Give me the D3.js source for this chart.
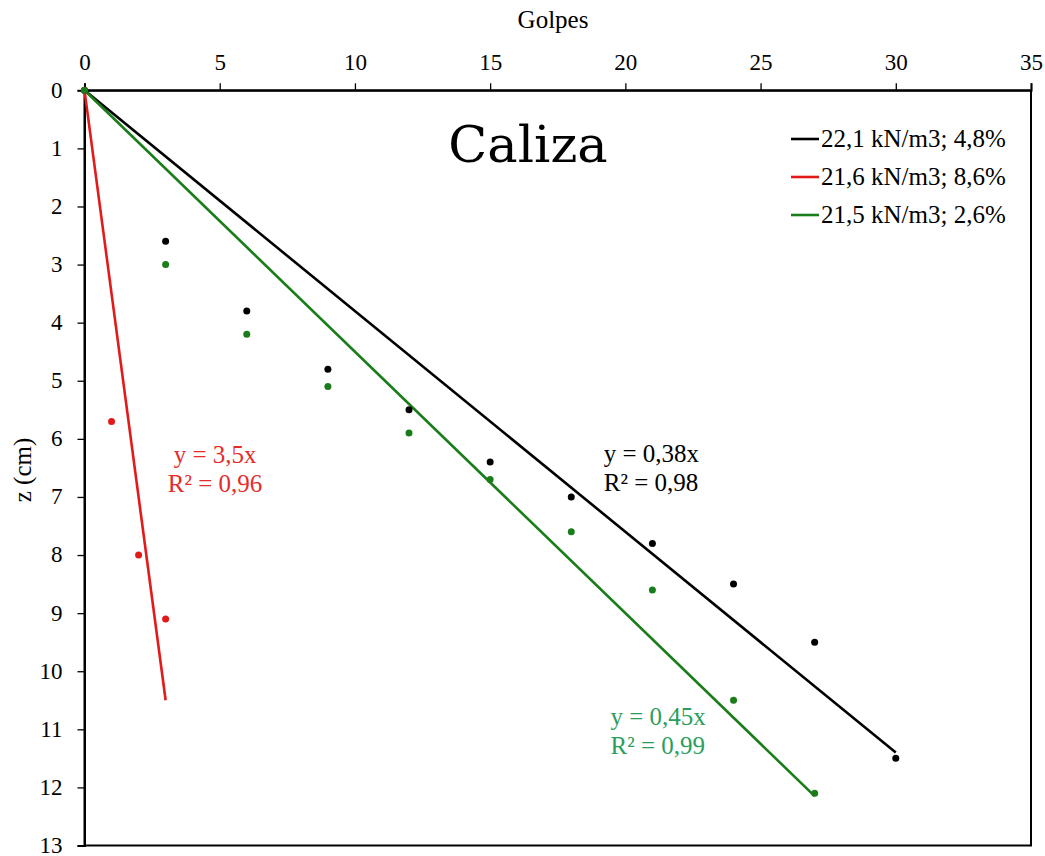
<!DOCTYPE html>
<html>
<head>
<meta charset="utf-8">
<script src="https://cdn.jsdelivr.net/npm/d3@7"></script>
<style>
  html, body { margin: 0; padding: 0; background: #fff; }
  svg { display: block; }
  text { font-family: "Liberation Serif", "Times New Roman", serif; }
</style>
</head>
<body>
<svg id="chart" width="1045" height="856"></svg>
<script>
// Number of blows (golpes) vs penetration depth z (cm)
const golpesBlack = [0, 3, 6, 9, 12, 15, 18, 21, 24, 27, 30];
const zBlack      = [0, 2.6, 3.8, 4.8, 5.5, 6.4, 7.0, 7.8, 8.5, 9.5, 11.5];

const golpesRed = [0, 1, 2, 3];
const zRed      = [0, 5.7, 8.0, 9.1];

const golpesGreen = [0, 3, 6, 9, 12, 15, 18, 21, 24, 27];
const zGreen      = [0, 3.0, 4.2, 5.1, 5.9, 6.7, 7.6, 8.6, 10.5, 12.1];

// Linear fits through the origin
const slopes   = [0.38, 3.5, 0.45];
const fitMaxX  = [30, 3, 27];
const eqLabels = ["y = 0,38x", "y = 3,5x", "y = 0,45x"];
const r2Labels = ["R² = 0,98", "R² = 0,96", "R² = 0,99"];

const seriesNames  = ["22,1 kN/m3; 4,8%", "21,6 kN/m3; 8,6%", "21,5 kN/m3; 2,6%"];
const seriesColors = ["#000000", "#e21a1a", "#1a7d1a"];
const labelColors  = ["#000000", "#e62b2b", "#2a9e5c"];

const xTicks = [0, 5, 10, 15, 20, 25, 30, 35];
const yTicks = [0, 1, 2, 3, 4, 5, 6, 7, 8, 9, 10, 11, 12, 13];

const svg = d3.select("#chart");
const margin = { left: 84.5, right: 1031, top: 90.3, bottom: 845.5 };

const x = d3.scaleLinear().domain([0, 35]).range([margin.left, margin.right]);
const y = d3.scaleLinear().domain([0, 13]).range([margin.top, margin.bottom]);

// Plot frame (right and bottom edges)
svg.append("rect")
  .attr("x", margin.left).attr("y", margin.top)
  .attr("width", margin.right - margin.left)
  .attr("height", margin.bottom - margin.top)
  .attr("fill", "none").attr("stroke", "#000").attr("stroke-width", 2);

// Top x axis
const xAxis = svg.append("g")
  .attr("transform", `translate(0,${margin.top})`)
  .call(d3.axisTop(x).tickValues(xTicks).tickSize(7).tickPadding(13).tickFormat(d3.format("d")));
// Left y axis
const yAxis = svg.append("g")
  .attr("transform", `translate(${margin.left},0)`)
  .call(d3.axisLeft(y).tickValues(yTicks).tickSize(7).tickPadding(15).tickFormat(d3.format("d")));

[xAxis, yAxis].forEach(ax => {
  ax.select(".domain").attr("stroke", "#000").attr("stroke-width", 2);
  ax.selectAll(".tick line").attr("stroke", "#000").attr("stroke-width", 1.3);
  ax.selectAll(".tick text")
    .attr("fill", "#000")
    .style("font-family", "'Liberation Serif', serif")
    .style("font-size", "23px");
});
xAxis.selectAll(".tick text").attr("dy", "0");
yAxis.selectAll(".tick text").attr("dy", "0.3em");

// Axis titles
svg.append("text")
  .attr("x", 553).attr("y", 28)
  .attr("text-anchor", "middle")
  .style("font-size", "25px")
  .text("Golpes");
svg.append("text")
  .attr("transform", `translate(31,470) rotate(-90)`)
  .attr("text-anchor", "middle")
  .style("font-size", "25px")
  .text("z (cm)");

// Trend lines
const datasets = [
  { gx: golpesBlack, gz: zBlack },
  { gx: golpesRed, gz: zRed },
  { gx: golpesGreen, gz: zGreen }
];

const line = d3.line().x(d => x(d[0])).y(d => y(d[1]));
slopes.forEach((m, i) => {
  svg.append("path")
    .datum([[0, 0], [fitMaxX[i], m * fitMaxX[i]]])
    .attr("d", line)
    .attr("fill", "none")
    .attr("stroke", seriesColors[i])
    .attr("stroke-width", 2.6);
});

// Data points
datasets.forEach((ds, i) => {
  svg.append("g").selectAll("circle")
    .data(ds.gx.map((g, k) => [g, ds.gz[k]]))
    .join("circle")
    .attr("cx", d => x(d[0]))
    .attr("cy", d => y(d[1]))
    .attr("r", 3.5)
    .attr("fill", seriesColors[i]);
});

// Trend line equations
const eqPos = [
  { gx: 19.2, gz: 6.4, anchor: "start" },
  { gx: 4.83, gz: 6.42, anchor: "middle" },
  { gx: 19.45, gz: 10.93, anchor: "start" }
];
eqPos.forEach((p, i) => {
  const t = svg.append("text")
    .attr("x", x(p.gx)).attr("y", y(p.gz))
    .attr("text-anchor", p.anchor)
    .attr("fill", labelColors[i])
    .style("font-size", "25px");
  t.append("tspan").attr("x", x(p.gx)).text(eqLabels[i]);
  t.append("tspan").attr("x", x(p.gx)).attr("dy", 29).text(r2Labels[i]);
});

// Title
svg.append("text")
  .attr("x", 528).attr("y", 162)
  .attr("text-anchor", "middle")
  .style("font-family", "'DejaVu Serif', serif")
  .style("font-size", "51px")
  .text("Caliza");

// Legend
const legend = svg.append("g");
seriesNames.forEach((name, i) => {
  const ly = 139 + i * 38;
  legend.append("line")
    .attr("x1", 791).attr("x2", 819)
    .attr("y1", ly).attr("y2", ly)
    .attr("stroke", seriesColors[i]).attr("stroke-width", 2.6);
  legend.append("text")
    .attr("x", 821).attr("y", ly + 8)
    .style("font-size", "25px")
    .attr("fill", "#000")
    .text(name);
});
</script>
</body>
</html>
